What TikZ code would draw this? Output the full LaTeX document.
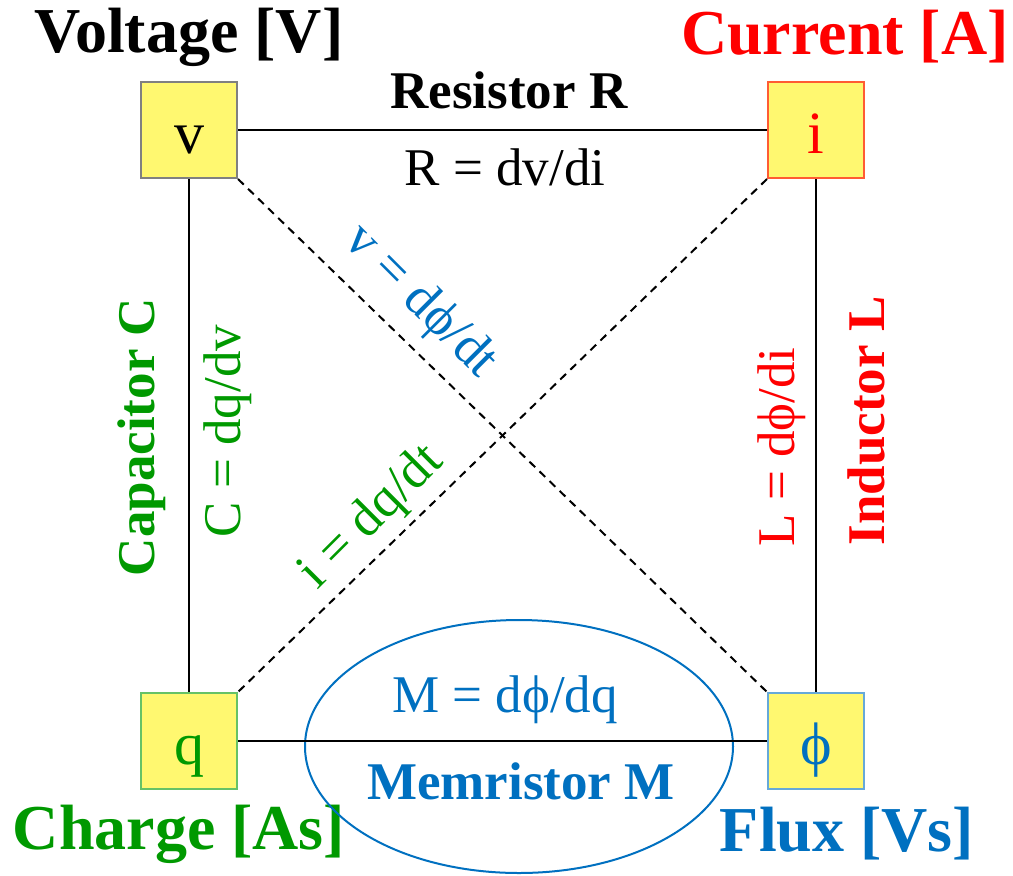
\documentclass[tikz,border=0pt]{standalone}
\usepackage{fontspec}
\setmainfont{Liberation Serif}
\usetikzlibrary{shapes.geometric}
\definecolor{boxyellow}{HTML}{FFF870}
\definecolor{memblue}{HTML}{0070C0}
\definecolor{capgreen}{HTML}{009900}
\definecolor{indred}{HTML}{FF0000}
\tikzset{
  qty/.style={draw, fill=boxyellow, line width=1pt, minimum size=48pt, inner sep=0pt, text height=23pt, text depth=0pt, font=\fontsize{30}{36}\selectfont},
  title/.style={font=\fontsize{32}{38}\selectfont\bfseries},
  elem/.style={font=\fontsize{26.5}{32}\selectfont\bfseries},
  law/.style={font=\fontsize{26.5}{32}\selectfont},
}
\begin{document}
\begin{tikzpicture}[x=0.5pt, y=-0.5pt, line width=1pt]
    \useasboundingbox (0,0) rectangle (1013,875);
    % the four quantities
    \node[qty, draw=gray] (v) at (189,130) {v};
    \node[qty, draw=indred!60!orange!80, text=indred] (i) at (816,130) {i};
    \node[qty, draw=capgreen!60!white, text=capgreen] (q) at (189,741) {q};
    \node[qty, draw=memblue!60!white, text=memblue] (phi) at (816,741) {ϕ};
    \node[title] (volt) at (189,37) {Voltage [V]};
    \node[title, text=indred] (curr) at (845,37) {Current [A]};
    \node[title, text=capgreen] (charge) at (179,834) {Charge [As]};
    \node[title, text=memblue] (flux) at (847,834) {Flux [Vs]};
    % memristor
    \node[ellipse, draw=memblue, minimum width=214pt, minimum height=126.5pt] (mem) at (519,746.5) {};
    % connectors
    \draw (v) -- (i);
    \draw (v) -- (q);
    \draw (i) -- (phi);
    \draw (q) -- (phi);
    \draw[dash pattern=on 4pt off 3pt] (v.south east) -- (phi.north west);
    \draw[dash pattern=on 4pt off 3pt] (i.south west) -- (q.north east);
    % labels
    \node[elem] (res) at (509,90) {Resistor R};
    \node[law] (reslaw) at (505,167) {R = dv/di};
    \node[elem, text=capgreen, rotate=90] (cap) at (142,437) {Capacitor C};
    \node[law, text=capgreen, rotate=90] (caplaw) at (228,431) {C = dq/dv};
    \node[elem, text=indred, rotate=90] (ind) at (866,421) {Inductor L};
    \node[law, text=indred, rotate=90] (indlaw) at (782,447) {L = dϕ/di};
    \node[law, text=memblue, rotate=-45] (flaw) at (420,302) {v = dϕ/dt};
    \node[law, text=capgreen, rotate=45] (qlaw) at (372,518) {i = dq/dt};
    \node[law, text=memblue] (memlaw) at (505,700) {M = dϕ/dq};
    \node[elem, text=memblue] (memname) at (521,781) {Memristor M};
\end{tikzpicture}
\end{document}
